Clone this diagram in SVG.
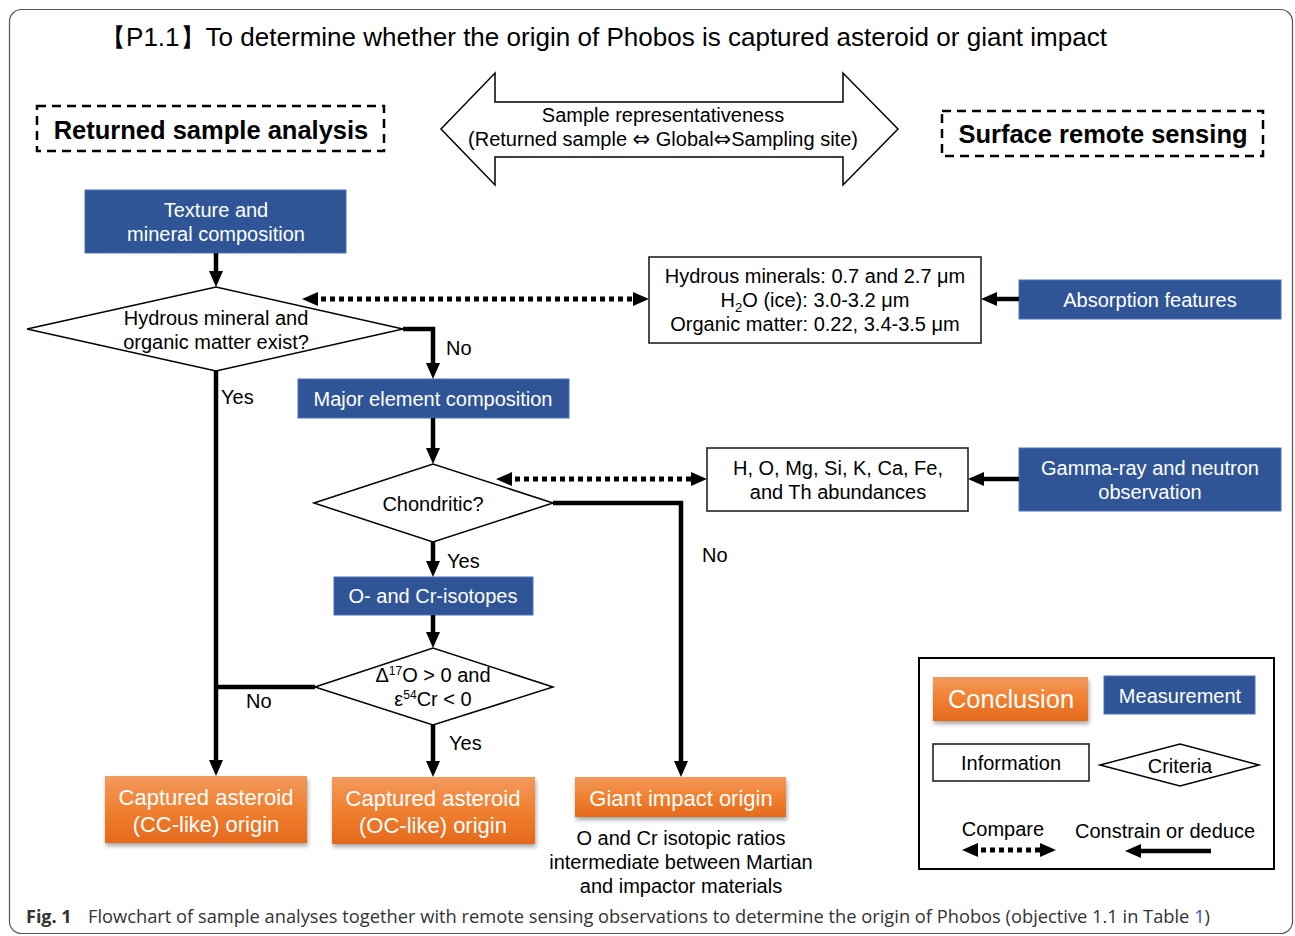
<svg xmlns="http://www.w3.org/2000/svg" width="1295" height="936" viewBox="0 0 1295 936">
<defs>
<style>
text{font-family:"Liberation Sans",Arial,sans-serif;fill:#000}
.t19{font-size:20px}
.t22{font-size:22px}
.w{fill:#fff}
.mid{text-anchor:middle}
.sym{font-family:"DejaVu Sans",sans-serif;font-size:21px}
.blue{fill:#2F5597;stroke:#4A72B8;stroke-width:1}
.info{fill:#fff;stroke:#222;stroke-width:1.6}
.dia{fill:#fff;stroke:#000;stroke-width:1.5}
.dash{fill:none;stroke:#000;stroke-width:2.5;stroke-dasharray:9 6}
.con{fill:none;stroke:#000;stroke-width:4.5}
.dot{fill:none;stroke:#000;stroke-width:5;stroke-dasharray:5 4}
.arr{marker-end:url(#ah)}
.dbl{marker-start:url(#ah);marker-end:url(#ah)}
.orange{fill:url(#og);filter:url(#sh)}
.bold{font-size:25.5px;font-weight:bold}
.cap{font-family:"Open Sans","Noto Sans",sans-serif;font-size:18px;fill:#333}
</style>
<linearGradient id="og" x1="0" y1="0" x2="0" y2="1">
<stop offset="0" stop-color="#F39A5E"/>
<stop offset="0.5" stop-color="#F0802F"/>
<stop offset="1" stop-color="#E4691C"/>
</linearGradient>
<filter id="sh" x="-10%" y="-10%" width="130%" height="140%">
<feDropShadow dx="1" dy="3" stdDeviation="2" flood-color="#000" flood-opacity="0.35"/>
</filter>
<marker id="ah" markerUnits="userSpaceOnUse" markerWidth="16" markerHeight="16" refX="6" refY="8" orient="auto-start-reverse">
<path d="M0,1 L16,8 L0,15 z" fill="#000"/>
</marker>
</defs>
<rect x="9.5" y="9.5" width="1283" height="924" rx="12" fill="#fff" stroke="#555" stroke-width="1.2"/>
<text x="100" y="46" style="font-size:25px" textLength="1007" lengthAdjust="spacingAndGlyphs">【P1.1】To determine whether the origin of Phobos is captured asteroid or giant impact</text>
<g id="returned-sample">
<rect x="37" y="106" width="347" height="45" class="dash"/>
<text x="211" y="139" class="mid bold">Returned sample analysis</text>
</g>
<g id="surface-remote">
<rect x="942" y="111" width="321" height="45" class="dash"/>
<text x="1103" y="143" class="mid bold">Surface remote sensing</text>
</g>
<g id="representativeness">
<path d="M441,129 L495,73 L495,102 L843,102 L843,73 L898,129 L843,185 L843,157 L495,157 L495,185 Z" fill="#fff" stroke="#000" stroke-width="1.5"/>
<text x="663" y="122" class="mid t19">Sample representativeness</text>
<text x="663" y="146" class="mid t19">(Returned sample <tspan class="sym">⇔</tspan> Global<tspan class="sym">⇔</tspan>Sampling site)</text>
</g>
<g id="texture">
<rect x="85" y="190" width="261" height="63" class="blue"/>
<text x="216" y="217" class="mid t19 w">Texture and</text>
<text x="216" y="241" class="mid t19 w">mineral composition</text>
</g>
<g id="hydrous-q">
<polygon points="27,329 216,287 403,329 216,371" class="dia"/>
<text x="216" y="325" class="mid t19">Hydrous mineral and</text>
<text x="216" y="349" class="mid t19">organic matter exist?</text>
</g>
<g id="absorption-info">
<rect x="649" y="257" width="332" height="86" class="info"/>
<text x="815" y="283" class="mid t19">Hydrous minerals: 0.7 and 2.7 μm</text>
<text x="815" y="307" class="mid t19">H<tspan dy="5" style="font-size:13px">2</tspan><tspan dy="-5">O (ice): 3.0-3.2 μm</tspan></text>
<text x="815" y="331" class="mid t19">Organic matter: 0.22, 3.4-3.5 μm</text>
</g>
<g id="absorption">
<rect x="1019" y="280" width="262" height="39" class="blue"/>
<text x="1150" y="307" class="mid t19 w">Absorption features</text>
</g>
<g id="major">
<rect x="298" y="379" width="271" height="39" class="blue"/>
<text x="433" y="406" class="mid t19 w">Major element composition</text>
</g>
<g id="chondritic-q">
<polygon points="314,503 433,464 553,503 433,542" class="dia"/>
<text x="433" y="511" class="mid t19">Chondritic?</text>
</g>
<g id="elements-info">
<rect x="707" y="448" width="261" height="63" class="info"/>
<text x="838" y="475" class="mid t19">H, O, Mg, Si, K, Ca, Fe,</text>
<text x="838" y="499" class="mid t19">and Th abundances</text>
</g>
<g id="gamma">
<rect x="1019" y="448" width="262" height="63" class="blue"/>
<text x="1150" y="475" class="mid t19 w">Gamma-ray and neutron</text>
<text x="1150" y="499" class="mid t19 w">observation</text>
</g>
<g id="isotopes">
<rect x="334" y="577" width="199" height="38" class="blue"/>
<text x="433" y="603" class="mid t19 w">O- and Cr-isotopes</text>
</g>
<g id="isotope-q">
<polygon points="315,687 433,648 553,687 433,725" class="dia"/>
<text x="433" y="682" class="mid t19">Δ<tspan dy="-7" style="font-size:12px">17</tspan><tspan dy="7">O &gt; 0 and</tspan></text>
<text x="433" y="706" class="mid t19">ε<tspan dy="-7" style="font-size:12px">54</tspan><tspan dy="7">Cr &lt; 0</tspan></text>
</g>
<g id="cc-origin">
<rect x="105" y="776" width="202" height="67" class="orange"/>
<text x="206" y="805" class="mid t22 w">Captured asteroid</text>
<text x="206" y="832" class="mid t22 w">(CC-like) origin</text>
</g>
<g id="oc-origin">
<rect x="332" y="777" width="203" height="67" class="orange"/>
<text x="433" y="806" class="mid t22 w">Captured asteroid</text>
<text x="433" y="833" class="mid t22 w">(OC-like) origin</text>
</g>
<g id="giant-impact">
<rect x="575" y="777" width="211" height="40" class="orange"/>
<text x="681" y="806" class="mid t22 w">Giant impact origin</text>
<text x="681" y="845" class="mid t19">O and Cr isotopic ratios</text>
<text x="681" y="869" class="mid t19">intermediate between Martian</text>
<text x="681" y="893" class="mid t19">and impactor materials</text>
</g>
<g id="connectors">
<path d="M216,253 V277" class="con arr"/>
<path d="M312,299 H639" class="dot dbl"/>
<path d="M1019,299 H991" class="con arr"/>
<path d="M403,329 H433 V369" class="con arr"/>
<path d="M216,371 V766" class="con arr"/>
<path d="M433,418 V454" class="con arr"/>
<path d="M506,479 H697" class="dot dbl"/>
<path d="M1019,479 H978" class="con arr"/>
<path d="M553,503 H681 V767" class="con arr"/>
<path d="M433,542 V567" class="con arr"/>
<path d="M433,615 V638" class="con arr"/>
<path d="M315,687 H216" class="con"/>
<path d="M433,725 V767" class="con arr"/>
<text x="446" y="355" class="t19">No</text>
<text x="221" y="404" class="t19">Yes</text>
<text x="702" y="562" class="t19">No</text>
<text x="447" y="568" class="t19">Yes</text>
<text x="246" y="708" class="t19">No</text>
<text x="449" y="750" class="t19">Yes</text>
</g>
<g id="legend">
<rect x="919" y="658" width="355" height="211" fill="#fff" stroke="#000" stroke-width="2"/>
<rect x="933" y="677" width="155" height="44" class="orange"/>
<text x="1011" y="708" class="mid w" style="font-size:25.5px">Conclusion</text>
<rect x="1104" y="676" width="151" height="38" class="blue"/>
<text x="1180" y="703" class="mid t19 w">Measurement</text>
<rect x="933" y="744" width="156" height="37" class="info"/>
<text x="1011" y="770" class="mid t19">Information</text>
<polygon points="1100,765 1180,744 1259,765 1180,786" class="dia"/>
<text x="1180" y="773" class="mid t19">Criteria</text>
<text x="1003" y="836" class="mid t19">Compare</text>
<path d="M972,850 H1046" class="dot dbl"/>
<text x="1165" y="838" class="mid t19">Constrain or deduce</text>
<path d="M1211,851 H1135" class="con arr"/>
</g>
<text x="26" y="923" style="font-family:'Open Sans','Noto Sans',sans-serif;font-size:18px;font-weight:bold;fill:#333">Fig. 1</text>
<text x="88" y="923" class="cap" textLength="1122" lengthAdjust="spacingAndGlyphs">Flowchart of sample analyses together with remote sensing observations to determine the origin of Phobos (objective 1.1 in Table <tspan fill="#3355CC">1</tspan>)</text>
</svg>
